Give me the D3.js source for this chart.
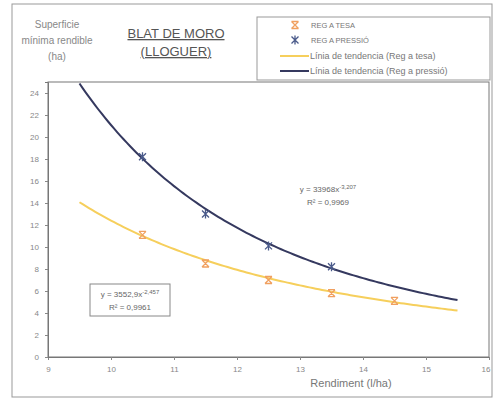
<!DOCTYPE html>
<html><head><meta charset="utf-8">
<script src="https://cdn.jsdelivr.net/npm/d3@7"></script>
<style>
body{margin:0;background:#fff;}
svg{font-family:"Liberation Sans",Arial,sans-serif;}
</style></head><body>
<svg id="c" width="493" height="399"></svg>
<script>
const xTicks = [9,10,11,12,13,14,15,16];
const yTicks = [0,2,4,6,8,10,12,14,16,18,20,22,24];
const tesaX = [10.5,11.5,12.5,13.5,14.5];
const tesaY = [11.1,8.5,7.0,5.8,5.1];
const pressioX = [10.5,11.5,12.5,13.5];
const pressioY = [18.2,13.0,10.1,8.2];
const trendTesa = {a:3552.9, b:-2.457, from:9.5, to:15.5};
const trendPressio = {a:33968, b:-3.207, from:9.5, to:15.5};
const legendLabels = ["REG A TESA","REG A PRESSIÓ","Línia de tendencia (Reg a tesa)","Línia de tendencia (Reg a pressió)"];

const svg = d3.select("#c");
const L=48,R=489,T=82,B=357;
const x = d3.scaleLinear().domain([9,16]).range([L,R]);
const y = d3.scaleLinear().domain([0,25]).range([B,T]);
const cTesa="#f6cf5c", cTesaM="#f0a060", cPres="#35395f";

svg.append("rect").attr("x",12).attr("y",4).attr("width",480).attr("height",393)
  .attr("fill","none").attr("stroke","#999").attr("stroke-width",1);
svg.append("rect").attr("x",L).attr("y",T).attr("width",R-L).attr("height",B-T)
  .attr("fill","none").attr("stroke","#777").attr("stroke-width",1);

const xa = svg.append("g").attr("transform",`translate(0,${B})`)
  .call(d3.axisBottom(x).tickValues(xTicks).tickSize(3).tickPadding(6).tickFormat(d3.format("d")));
const ya = svg.append("g").attr("transform",`translate(${L},0)`)
  .call(d3.axisLeft(y).tickValues(yTicks).tickSize(3).tickPadding(6).tickFormat(d3.format("d")));
[xa,ya].forEach(a=>{a.select(".domain").attr("stroke","#777");
  a.selectAll(".tick line").attr("stroke","#888");
  a.selectAll("text").attr("fill","#888").style("font-size","8px");});
xa.selectAll(".tick text").filter(d=>d===16).attr("text-anchor","end").attr("dx","1");

function trendPts(t){ const xs=d3.range(t.from,t.to+0.0001,0.05); return xs.map(v=>[v,t.a*Math.pow(v,t.b)]); }
const line=d3.line().x(d=>x(d[0])).y(d=>y(d[1]));
svg.append("path").attr("d",line(trendPts(trendTesa))).attr("fill","none").attr("stroke",cTesa).attr("stroke-width",2);
svg.append("path").attr("d",line(trendPts(trendPressio))).attr("fill","none").attr("stroke",cPres).attr("stroke-width",2);

function xMark(g,cx,cy,col,star){
  const s=3.5;
  g.append("path").attr("d",`M${cx-s},${cy-s}L${cx+s},${cy+s}M${cx+s},${cy-s}L${cx-s},${cy+s}`+(star?`M${cx},${cy-s-1}L${cx},${cy+s+1}`:`M${cx-s},${cy-s}L${cx+s},${cy-s}M${cx-s},${cy+s}L${cx+s},${cy+s}`))
   .attr("stroke",col).attr("stroke-width",1.3).attr("fill","none");
}
const mg=svg.append("g");
tesaX.forEach((v,i)=>xMark(mg,x(v),y(tesaY[i]),cTesaM,false));
pressioX.forEach((v,i)=>xMark(mg,x(v),y(pressioY[i]),"#4a5a8a",true));

svg.append("text").attr("x",176).attr("y",38).attr("text-anchor","middle").attr("fill","#555")
  .style("font-size","13px").style("text-decoration","underline").text("BLAT DE MORO");
svg.append("text").attr("x",176).attr("y",56).attr("text-anchor","middle").attr("fill","#555")
  .style("font-size","13px").style("text-decoration","underline").text("(LLOGUER)");
["Superficie","mínima rendible","(ha)"].forEach((t,i)=>svg.append("text").attr("x",57).attr("y",28+i*16)
  .attr("text-anchor","middle").attr("fill","#888").style("font-size","10px").text(t));
svg.append("text").attr("x",351).attr("y",387).attr("text-anchor","middle").attr("fill","#777")
  .style("font-size","11px").text("Rendiment (l/ha)");

svg.append("rect").attr("x",257).attr("y",17).attr("width",233).attr("height",63).attr("fill","#fff").attr("stroke","#999");
const lg=svg.append("g");
xMark(lg,295,25,cTesaM,false);
xMark(lg,295,40,"#4a5a8a",true);
lg.append("line").attr("x1",280).attr("x2",309).attr("y1",56).attr("y2",56).attr("stroke",cTesa).attr("stroke-width",2);
lg.append("line").attr("x1",280).attr("x2",309).attr("y1",71).attr("y2",71).attr("stroke",cPres).attr("stroke-width",2);
legendLabels.forEach((t,i)=>lg.append("text").attr("x",i<2?311:310).attr("y",[28,43,59,74][i])
  .attr("fill","#777").style("font-size",i<2?"7.5px":"9px").text(t));

svg.append("rect").attr("x",90).attr("y",284).attr("width",80).attr("height",32).attr("fill","#fff").attr("stroke","#888");
function eq(cx,y0,c,e,r){
  const t=svg.append("text").attr("x",cx).attr("y",y0).attr("text-anchor","middle").attr("fill","#666").style("font-size","8px");
  t.append("tspan").text(`y = ${c}x`);
  t.append("tspan").attr("dy",-3).style("font-size","6px").text(e);
  svg.append("text").attr("x",cx).attr("y",y0+13).attr("text-anchor","middle").attr("fill","#666").style("font-size","8px").text(`R² = ${r}`);
}
eq(130,297,"3552,9","-2,457","0,9961");
eq(328,192,"33968","-3,207","0,9969");
</script></body></html>
